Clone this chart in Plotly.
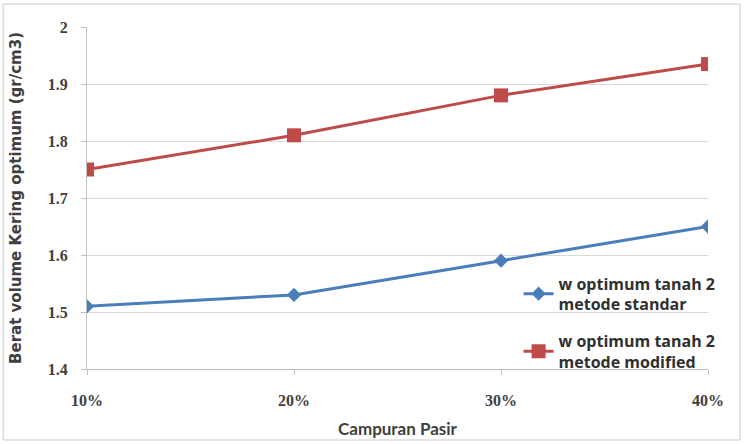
import plotly.graph_objects as go

categories = ["10%", "20%", "30%", "40%"]
standar = [1.51, 1.53, 1.59, 1.65]
modified = [1.75, 1.81, 1.88, 1.935]
y_ticks = [1.4, 1.5, 1.6, 1.7, 1.8, 1.9, 2.0]
y_labels = ["1.4", "1.5", "1.6", "1.7", "1.8", "1.9", "2"]

xpos = list(range(len(categories)))
FONT = "Lato, 'Open Sans', sans-serif"
TICKFONT = "'Liberation Serif', serif"

fig = go.Figure()
fig.add_trace(go.Scatter(
    x=xpos, y=standar, mode="lines+markers",
    name="<b>w optimum tanah 2<br>metode standar</b>", legendgroup="a",
    line=dict(color="#4A7EBB", width=3),
    marker=dict(symbol="diamond", size=11, color="#4A7EBB"),
))
fig.add_trace(go.Scatter(
    x=xpos, y=modified, mode="lines+markers",
    name="<b>w optimum tanah 2<br>metode modified</b>", legendgroup="b",
    line=dict(color="#BE4B48", width=3),
    marker=dict(symbol="square", size=14, color="#BE4B48"),
))

fig.update_layout(
    width=745, height=444,
    margin=dict(l=87, r=37, t=27, b=75),
    paper_bgcolor="white", plot_bgcolor="white",
    font=dict(family=FONT, color="#404040", size=13),
    showlegend=True,
    legend=dict(x=0.695, y=0.30, xanchor="left", yanchor="top",
                bgcolor="rgba(0,0,0,0)",
                font=dict(size=16, color="#303030", family="'Open Sans', sans-serif"),
                tracegroupgap=13, traceorder="grouped"),
    xaxis=dict(
        range=[0, 3], tickvals=xpos, ticktext=categories,
        showgrid=False, zeroline=False, automargin=False,
        showline=True, linecolor="#BFBFBF", linewidth=1,
        ticks="outside", ticklen=5, tickcolor="#BFBFBF",
        ticklabelstandoff=12,
        tickfont=dict(size=16, color="#404040", family=TICKFONT, weight="bold"),
        title=dict(text="<b>Campuran Pasir</b>", font=dict(size=17, color="#404040"), standoff=14),
    ),
    yaxis=dict(
        range=[1.4, 2.0], tickvals=y_ticks, ticktext=y_labels,
        showgrid=True, gridcolor="#D9D9D9", gridwidth=1,
        zeroline=False, automargin=False,
        showline=True, linecolor="#BFBFBF", linewidth=1,
        ticks="outside", ticklen=5, tickcolor="#BFBFBF",
        ticklabelstandoff=10,
        tickfont=dict(size=16, color="#404040", family=TICKFONT, weight="bold"),
        title=dict(text="<b>Berat volume Kering optimum (gr/cm3)</b>",
                   font=dict(size=15, color="#404040", family="'DejaVu Sans', sans-serif"), standoff=22),
    ),
    shapes=[dict(type="rect", xref="paper", yref="paper",
                 x0=-0.135, x1=1.0515, y0=-0.2076, y1=1.067,
                 line=dict(color="#C8C8C8", width=1), layer="below")],
)

fig.write_html("out.html", config={"displayModeBar": False},
               post_script="document.body.style.margin='0px';")
